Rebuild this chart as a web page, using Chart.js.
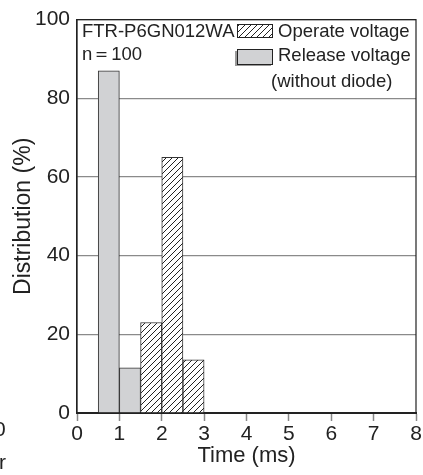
<!DOCTYPE html>
<html>
<head>
<meta charset="utf-8">
<script src="https://cdn.jsdelivr.net/npm/chart.js@4.4.1/dist/chart.umd.min.js"></script>
<style>
  html, body { margin: 0; padding: 0; background: #fff; }
  #wrap { width: 423px; height: 475px; }
</style>
</head>
<body>
<div id="wrap"><canvas id="chart"></canvas></div>
<script>
// bar centres (ms) and distribution (%)
const releaseTimes = [0.75, 1.25];
const releaseValues = [87, 11.5];
const operateTimes = [1.75, 2.25, 2.75];
const operateValues = [23, 65, 13.5];
const xTicks = [0, 1, 2, 3, 4, 5, 6, 7, 8];
const yTicks = [0, 20, 40, 60, 80, 100];

const FONT = "'Liberation Sans', Arial, sans-serif";

function hatch(ctx) {
  const s = 6;
  const c = document.createElement('canvas');
  c.width = s; c.height = s;
  const g = c.getContext('2d');
  g.fillStyle = '#fff';
  g.fillRect(0, 0, s, s);
  g.strokeStyle = '#222';
  g.lineWidth = 1;
  g.beginPath();
  g.moveTo(0, s); g.lineTo(s, 0);
  g.moveTo(-1, 1); g.lineTo(1, -1);
  g.moveTo(s - 1, s + 1); g.lineTo(s + 1, s - 1);
  g.stroke();
  return ctx.createPattern(c, 'repeat');
}

const canvas = document.getElementById('chart');
const ctx = canvas.getContext('2d');
const hatchFill = hatch(ctx);

// frame + legend box + notes
const extras = {
  id: 'extras',
  afterDraw(chart) {
    const { ctx, chartArea: a } = chart;
    ctx.save();
    ctx.strokeStyle = '#222';
    ctx.lineWidth = 1.2;
    ctx.beginPath();
    ctx.moveTo(a.left, a.bottom);
    ctx.lineTo(a.left, a.top);
    ctx.lineTo(a.right, a.top);
    ctx.lineTo(a.right, a.bottom);
    ctx.stroke();

    ctx.fillStyle = '#222';
    ctx.textBaseline = 'middle';
    ctx.textAlign = 'left';
    ctx.font = '18.5px ' + FONT;
    ctx.fillText('FTR-P6GN012WA', 82, 32);
    ctx.fillText('n\uFF1D100', 82, 55);

    // legend swatches
    ctx.fillStyle = hatchFill;
    ctx.fillRect(237, 24, 35, 13);
    ctx.lineWidth = 1;
    ctx.strokeRect(237.5, 24.5, 35, 13);

    ctx.fillStyle = '#999';
    ctx.fillRect(235, 51, 36, 15);
    ctx.fillStyle = '#d1d2d4';
    ctx.fillRect(237, 49, 35, 15);
    ctx.strokeRect(237.5, 49.5, 35, 15);

    ctx.fillStyle = '#222';
    ctx.font = '18.5px ' + FONT;
    ctx.fillText('Operate voltage', 278, 32);
    ctx.fillText('Release voltage', 278, 56);
    ctx.fillText('(without diode)', 271, 82);

    // fragments of neighbouring figure at the left edge
    ctx.font = '21px ' + FONT;
    ctx.fillText('0', -6, 430);
    ctx.fillText('r', -1, 463);
    ctx.restore();
  }
};

new Chart(canvas, {
  type: 'bar',
  data: {
    datasets: [
      {
        label: 'Release voltage',
        data: releaseTimes.map((t, i) => ({ x: t, y: releaseValues[i] })),
        backgroundColor: '#d1d2d4',
        borderColor: '#333',
        borderWidth: 1
      },
      {
        label: 'Operate voltage',
        data: operateTimes.map((t, i) => ({ x: t, y: operateValues[i] })),
        backgroundColor: hatchFill,
        borderColor: '#333',
        borderWidth: 1
      }
    ]
  },
  options: {
    responsive: true,
    maintainAspectRatio: false,
    animation: false,
    layout: { padding: { top: 16, right: 7, left: 0, bottom: 0 } },
    datasets: { bar: { grouped: false, barPercentage: 1, categoryPercentage: 1 } },
    plugins: { legend: { display: false }, tooltip: { enabled: false } },
    scales: {
      x: {
        type: 'linear',
        min: 0, max: 8,
        offset: false,
        afterBuildTicks: s => { s.ticks = xTicks.map(v => ({ value: v })); },
        grid: { offset: false, drawOnChartArea: false, drawTicks: true, tickLength: 8, color: '#888', tickWidth: 1.5 },
        border: { color: '#222', width: 2 },
        ticks: { color: '#222', font: { family: FONT, size: 21 }, padding: 1, maxRotation: 0 },
        title: { display: true, text: 'Time (ms)', color: '#222', font: { family: FONT, size: 22 }, padding: { top: 0, bottom: 6 } },
        afterFit: s => { s.height = 62; }
      },
      y: {
        min: 0, max: 100,
        afterBuildTicks: s => { s.ticks = yTicks.map(v => ({ value: v })); },
        grid: { color: '#8a8a8a', lineWidth: 1.3, drawTicks: false },
        border: { color: '#222', width: 1.2 },
        ticks: { color: '#222', font: { family: FONT, size: 21 }, padding: 7 },
        title: { display: true, text: 'Distribution (%)', color: '#222', font: { family: FONT, size: 23 }, padding: { top: 10, bottom: 0 } },
        afterFit: s => { s.width = 77; }
      }
    }
  },
  plugins: [extras]
});
</script>
</body>
</html>
